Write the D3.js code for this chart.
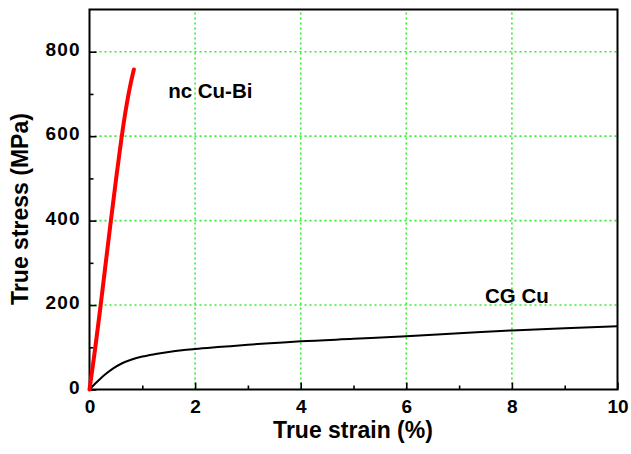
<!DOCTYPE html>
<html><head><meta charset="utf-8">
<script src="https://cdn.jsdelivr.net/npm/d3@7"></script>
<style>body{margin:0;background:#fff}svg{display:block}text{font-family:"Liberation Sans",Arial,sans-serif;font-weight:bold}</style>
</head><body>
<svg id="c" width="631" height="454"></svg>
<script>
const xTicks=[0,2,4,6,8,10];
const yTicks=[0,200,400,600,800];
const xMinor=[1,3,5,7,9];
const yMinor=[100,300,500,700];
const ncStrain=[0,0.1,0.2,0.3,0.4,0.5,0.6,0.7,0.78,0.84];
const ncStress=[0,90,188,292,395,495,590,672,725,758];
const cgStrain=[0,0.1,0.2,0.3,0.45,0.6,0.8,1.0,1.25,1.5,1.75,2,2.5,3,3.5,4,5,6,7,8,9,10];
const cgStress=[0,13,25,36,50,61,71,78,84,89,93,96,101,106,110,114,120,126,133,140,145,150];
const labels=[{t:"nc Cu-Bi",x:1.49,y:690},{t:"CG Cu",x:7.49,y:206}];

const svg=d3.select("#c");
const L=89.5,R=617.5,T=9.5,B=389.5;
const x=d3.scaleLinear().domain([0,10]).range([L,R]);
const y=d3.scaleLinear().domain([0,900]).range([B,T]);
const g=svg.append("g");
// grid
g.selectAll(".gx").data(xTicks.filter(d=>d>0&&d<10)).enter().append("line")
 .attr("x1",d=>x(d)).attr("x2",d=>x(d)).attr("y1",B).attr("y2",T)
 .attr("stroke","#33ee33").attr("stroke-width",1.6).attr("stroke-dasharray","2,3");
g.selectAll(".gy").data(yTicks.filter(d=>d>0)).enter().append("line")
 .attr("y1",d=>y(d)).attr("y2",d=>y(d)).attr("x1",L).attr("x2",R)
 .attr("stroke","#33ee33").attr("stroke-width",1.6).attr("stroke-dasharray","2,3");
// axes
const xa=d3.axisBottom(x).tickValues(xTicks).tickSizeInner(-7).tickSizeOuter(0).tickPadding(10).tickFormat(d3.format("d"));
const xm=d3.axisBottom(x).tickValues(xMinor).tickSize(-4).tickFormat("");
const ya=d3.axisLeft(y).tickValues(yTicks).tickSizeInner(-7).tickSizeOuter(0).tickPadding(9).tickFormat(d3.format("d"));
const ym=d3.axisLeft(y).tickValues(yMinor).tickSize(-4).tickFormat("");
const gx=svg.append("g").attr("transform",`translate(0,${B})`).call(xa);
svg.append("g").attr("transform",`translate(0,${B})`).call(xm);
const gy=svg.append("g").attr("transform",`translate(${L},0)`).call(ya);
svg.append("g").attr("transform",`translate(${L},0)`).call(ym);
svg.selectAll(".domain").remove();
svg.selectAll(".tick line").attr("stroke","#000").attr("stroke-width",1.6);
gx.selectAll("text").attr("font-size",19).attr("fill","#000").attr("font-family","Liberation Sans").attr("font-weight","bold");
gy.selectAll("text").attr("font-size",19).attr("fill","#000").attr("font-family","Liberation Sans").attr("font-weight","bold").attr("x",-10).attr("dy","0.2em").attr("textLength",function(d){return d===0?null:34;});
gy.selectAll("text").filter(d=>d===0).attr("textLength",null);
// frame
svg.append("rect").attr("x",L).attr("y",T).attr("width",R-L).attr("height",B-T).attr("fill","none").attr("stroke","#000").attr("stroke-width",2);
// curves
const line=d3.line().x(d=>x(d[0])).y(d=>y(d[1])).curve(d3.curveMonotoneX);
svg.append("path").datum(cgStrain.map((s,i)=>[s,cgStress[i]])).attr("d",line).attr("fill","none").attr("stroke","#000").attr("stroke-width",2);
svg.append("path").datum(ncStrain.map((s,i)=>[s,ncStress[i]])).attr("d",line).attr("fill","none").attr("stroke","#f00").attr("stroke-width",4).attr("stroke-linecap","round");
// labels
svg.selectAll(".lab").data(labels).enter().append("text").attr("x",d=>x(d.x)).attr("y",d=>y(d.y)).text(d=>d.t).attr("font-size",20.5).attr("fill","#000");
svg.append("text").attr("x",353).attr("y",438).attr("text-anchor","middle").attr("font-size",23).text("True strain (%)");
svg.append("text").attr("transform","translate(28,209) rotate(-90)").attr("text-anchor","middle").attr("font-size",23).text("True stress (MPa)");
</script>
</body></html>
